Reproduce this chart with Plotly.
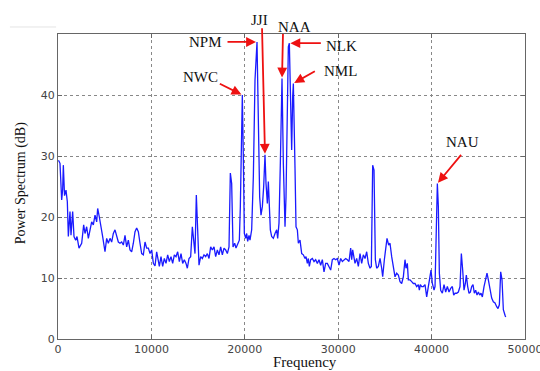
import plotly.graph_objects as go

# ---- data (frequency in Hz, power in dB) ----
freq = [
    50, 214, 393, 500, 571, 700, 856, 999, 1106, 1285, 1392, 1570, 1713, 1891, 2034, 2248,
    2534, 2748, 2891, 3069, 3248, 3426, 3605, 3783, 3962, 4140, 4247, 4425, 4568, 4782,
    5032, 5211, 5389, 5568, 5746, 5924, 6103, 6281, 6460, 6638, 6817, 6995, 7174, 7352,
    7531, 7709, 7888, 8066, 8245, 8423, 8602, 8780, 8959, 9137, 9316, 9494, 9673, 9851,
    10030, 10208, 10386, 10564, 10850, 11028, 11207, 11385, 11564, 11742, 11920, 12099,
    12277, 12456, 12634, 12813, 12991, 13170, 13348, 13526, 13705, 13848, 14026, 14205,
    14383, 14526, 14669, 14811, 14954, 15097, 15275, 15454, 15632, 15811, 15989, 16168,
    16346, 16525, 16703, 16881, 17060, 17238, 17417, 17595, 17774, 17952, 18131, 18309,
    18452, 18594, 18737, 18916, 19058, 19237, 19415, 19522, 19630, 19736, 19843, 19951,
    20094, 20201, 20308, 20450, 20557, 20736, 20914, 21093, 21307, 21449, 21592, 21735,
    21878, 22021, 22163, 22271, 22413, 22520, 22628, 22735, 22877, 23056, 23234, 23413,
    23520, 23662, 23805, 23984, 24126, 24305, 24412, 24555, 24662, 24769, 24912, 25019,
    25126, 25198, 25376, 25483, 25626, 25733, 25911, 26090, 26268, 26446, 26553, 26696,
    26803, 26910, 27053, 27232, 27410, 27589, 27767, 27945, 28124, 28302, 28481, 28659,
    28838, 29016, 29195, 29373, 29551, 29730, 29908, 30087, 30265, 30444, 30622, 30801,
    30979, 31157, 31336, 31443, 31550, 31657, 31800, 31978, 32157, 32335, 32514, 32692,
    32871, 33049, 33228, 33406, 33549, 33692, 33834, 33977, 34120, 34298, 34477, 34655,
    34762, 34941, 35119, 35226, 35405, 35547, 35726, 35904, 36083, 36261, 36440, 36618,
    36797, 36975, 37153, 37260, 37403, 37510, 37689, 37867, 38046, 38224, 38402, 38581,
    38688, 38795, 38938, 39116, 39295, 39473, 39652, 39830, 39937, 40080, 40259, 40366,
    40509, 40616, 40723, 40830, 40973, 41151, 41330, 41508, 41687, 41864, 42043, 42222,
    42364, 42507, 42686, 42864, 43042, 43185, 43328, 43470, 43613, 43720, 43863, 44006,
    44149, 44291, 44434, 44577, 44720, 44862, 45005, 45148, 45291, 45434, 45612, 45790,
    45933, 46076, 46254, 46433, 46611, 46790, 46968, 47111, 47254, 47397, 47539, 47682,
    47861, 47932,
]
power_db = [
    29.3, 28.8, 22.8, 24.5, 28.5, 23.5, 24.4, 22.5, 16.8, 20.9, 17.0, 20.9, 16.8, 16.2, 16.8, 14.9,
    15.7, 18.7, 17.3, 18.4, 16.5, 18.2, 19.2, 18.7, 20.3, 19.2, 21.4, 20.0, 18.9, 16.8,
    14.3, 16.5, 15.7, 16.5, 15.9, 17.3, 17.9, 16.8, 15.9, 15.7, 15.9, 15.4, 17.0, 15.1,
    16.2, 14.6, 14.3, 15.7, 17.6, 18.2, 17.6, 15.7, 14.0, 13.8, 15.9, 14.9, 14.9, 14.0,
    14.6, 12.4, 12.0, 14.3, 11.9, 13.5, 11.9, 13.2, 12.4, 13.8, 12.7, 13.5,
    12.4, 13.8, 13.5, 14.3, 12.7, 14.0, 12.4, 13.0, 12.4, 11.6, 13.2, 13.5,
    18.4, 16.2, 14.0, 23.6, 16.8, 12.1, 13.5, 13.2, 13.8, 13.5, 14.0, 13.2,
    15.1, 14.6, 15.1, 13.5, 14.6, 13.8, 15.1, 13.8, 14.9, 14.6, 14.0, 15.1,
    27.2, 25.5, 15.1, 15.7, 14.9, 15.7, 16.2, 21.7, 32.0, 40.0, 29.9, 17.3,
    16.5, 17.3, 16.0, 17.0, 16.2, 17.9, 26.6, 42.5, 48.7, 34.3, 23.3, 20.3,
    21.7, 25.0, 30.2, 25.5, 22.2, 25.8, 21.7, 17.9, 16.8, 16.5, 17.3, 17.9,
    16.5, 19.0, 28.8, 42.7, 28.8, 18.4, 23.3, 39.7, 47.9, 48.5, 39.7, 31.0,
    39.7, 41.9, 28.0, 18.4, 17.9, 15.7, 16.2, 14.0, 13.8, 13.2, 13.5, 12.4,
    13.2, 11.9, 13.0, 13.2, 12.7, 13.0, 12.4, 13.0, 12.1, 13.0, 11.0, 12.4,
    12.4, 11.9, 11.3, 13.0, 13.2, 13.0, 13.2, 12.1, 13.2, 12.7, 13.0, 13.2,
    13.0, 12.7, 14.9, 13.0, 14.6, 13.8, 12.4, 13.2, 11.9, 14.0, 12.4, 13.8,
    13.2, 14.3, 12.4, 11.6, 11.9, 28.5, 27.7, 13.0, 11.6, 11.9, 13.2, 11.6,
    10.2, 13.0, 15.7, 16.5, 15.4, 15.7, 13.5, 12.1, 10.2, 10.8, 10.5, 9.4,
    9.1, 10.2, 13.0, 11.6, 12.4, 9.7, 9.7, 9.4, 9.1, 9.1, 8.6, 8.9,
    8.0, 8.9, 8.6, 8.6, 8.9, 6.9, 8.6, 9.7, 11.3, 9.1, 8.0, 8.6,
    16.2, 25.5, 21.7, 10.8, 8.0, 7.5, 8.9, 7.7, 8.6, 7.7, 8.3, 8.6,
    7.2, 7.5, 7.5, 7.7, 8.6, 14.0, 11.3, 8.0, 9.1, 10.5, 8.6, 7.5,
    7.7, 8.6, 8.9, 7.5, 8.0, 7.2, 7.7, 7.2, 7.5, 6.9, 8.6, 9.7,
    10.8, 9.7, 8.0, 6.7, 6.1, 5.9, 5.3, 5.0, 5.6, 11.0, 9.7, 4.8,
    3.9, 3.6,
]

x_ticks = [0, 10000, 20000, 30000, 40000, 50000]
y_ticks = [0, 10, 20, 30, 40]

# transmitter labels and the frequency of the peak each one points to
station_labels = ["NWC", "NPM", "JJI", "NAA", "NLK", "NML", "NAU"]
station_freqs = [19736, 21307, 22163, 23984, 24769, 25198, 40616]

# (arrow tail offset dx, dy) and (text offset dx, dy) in pixels, relative to the peak
arrow_offsets = [(-24, -12), (-31, 0), (-3, -128), (1, -46), (33, 0), (23, -13), (25, -30)]
text_offsets = [(-42, 18), (-52, 0), (-6, 135), (12, 52), (52, -3), (47, 12), (25, 41)]

fig = go.Figure()
fig.add_trace(go.Scatter(
    x=freq, y=power_db, mode="lines",
    line=dict(color="#1a1aff", width=1.3),
    showlegend=False, hoverinfo="skip",
))

annotations = []
for lab, f, (adx, ady), (tdx, tdy) in zip(station_labels, station_freqs, arrow_offsets, text_offsets):
    i = min(range(len(freq)), key=lambda k: abs(freq[k] - f))
    px, py = freq[i], power_db[i]
    annotations.append(dict(
        x=px, y=py, xref="x", yref="y", text="", showarrow=True,
        ax=adx, ay=ady, arrowcolor="#ee1111", arrowwidth=1.8,
        arrowhead=2, arrowsize=1.1, standoff=1,
    ))
    annotations.append(dict(
        x=px, y=py, xref="x", yref="y", text=lab, showarrow=False,
        xshift=tdx, yshift=tdy,
        font=dict(family="Liberation Serif", size=15, color="#111"),
    ))

annotations.append(dict(
    x=-0.079, y=0.511, xref="paper", yref="paper", text="Power Spectrum (dB)",
    textangle=-90, showarrow=False, xanchor="center", yanchor="middle",
    font=dict(family="Liberation Serif", size=14, color="#111"),
))
annotations.append(dict(
    x=0.529, y=-0.077, xref="paper", yref="paper", text="Frequency",
    showarrow=False, xanchor="center", yanchor="middle",
    font=dict(family="Liberation Serif", size=15, color="#111"),
))

axis_common = dict(
    showline=True, mirror="ticks", linecolor="#666", linewidth=1,
    showgrid=True, gridcolor="#888", griddash="dot", gridwidth=1,
    ticks="inside", ticklen=4, tickcolor="#666",
    zeroline=False,
    tickfont=dict(family="DejaVu Sans", size=11, color="#444"),
)

fig.update_layout(
    width=540, height=371, autosize=False,
    margin=dict(l=58, r=15, t=34, b=32),
    paper_bgcolor="white", plot_bgcolor="white",
    xaxis=dict(range=[0, 50000], tickvals=x_ticks, ticktext=[str(v) for v in x_ticks],
               ticklabeloverflow="allow", automargin=False, **axis_common),
    yaxis=dict(range=[0, 50], tickvals=y_ticks, ticktext=[str(v) for v in y_ticks],
               automargin=False, **axis_common),
    annotations=annotations,
    shapes=[dict(type="line", xref="paper", yref="paper", x0=-0.103, x1=-0.004,
                 y0=1.023, y1=1.023, line=dict(color="#e4e4e4", width=1))],
)

fig.write_html(
    "out.html",
    config={"responsive": False, "displayModeBar": False},
    default_width="540px", default_height="371px",
    post_script="document.body.style.margin='0';document.body.style.overflow='hidden';",
)
